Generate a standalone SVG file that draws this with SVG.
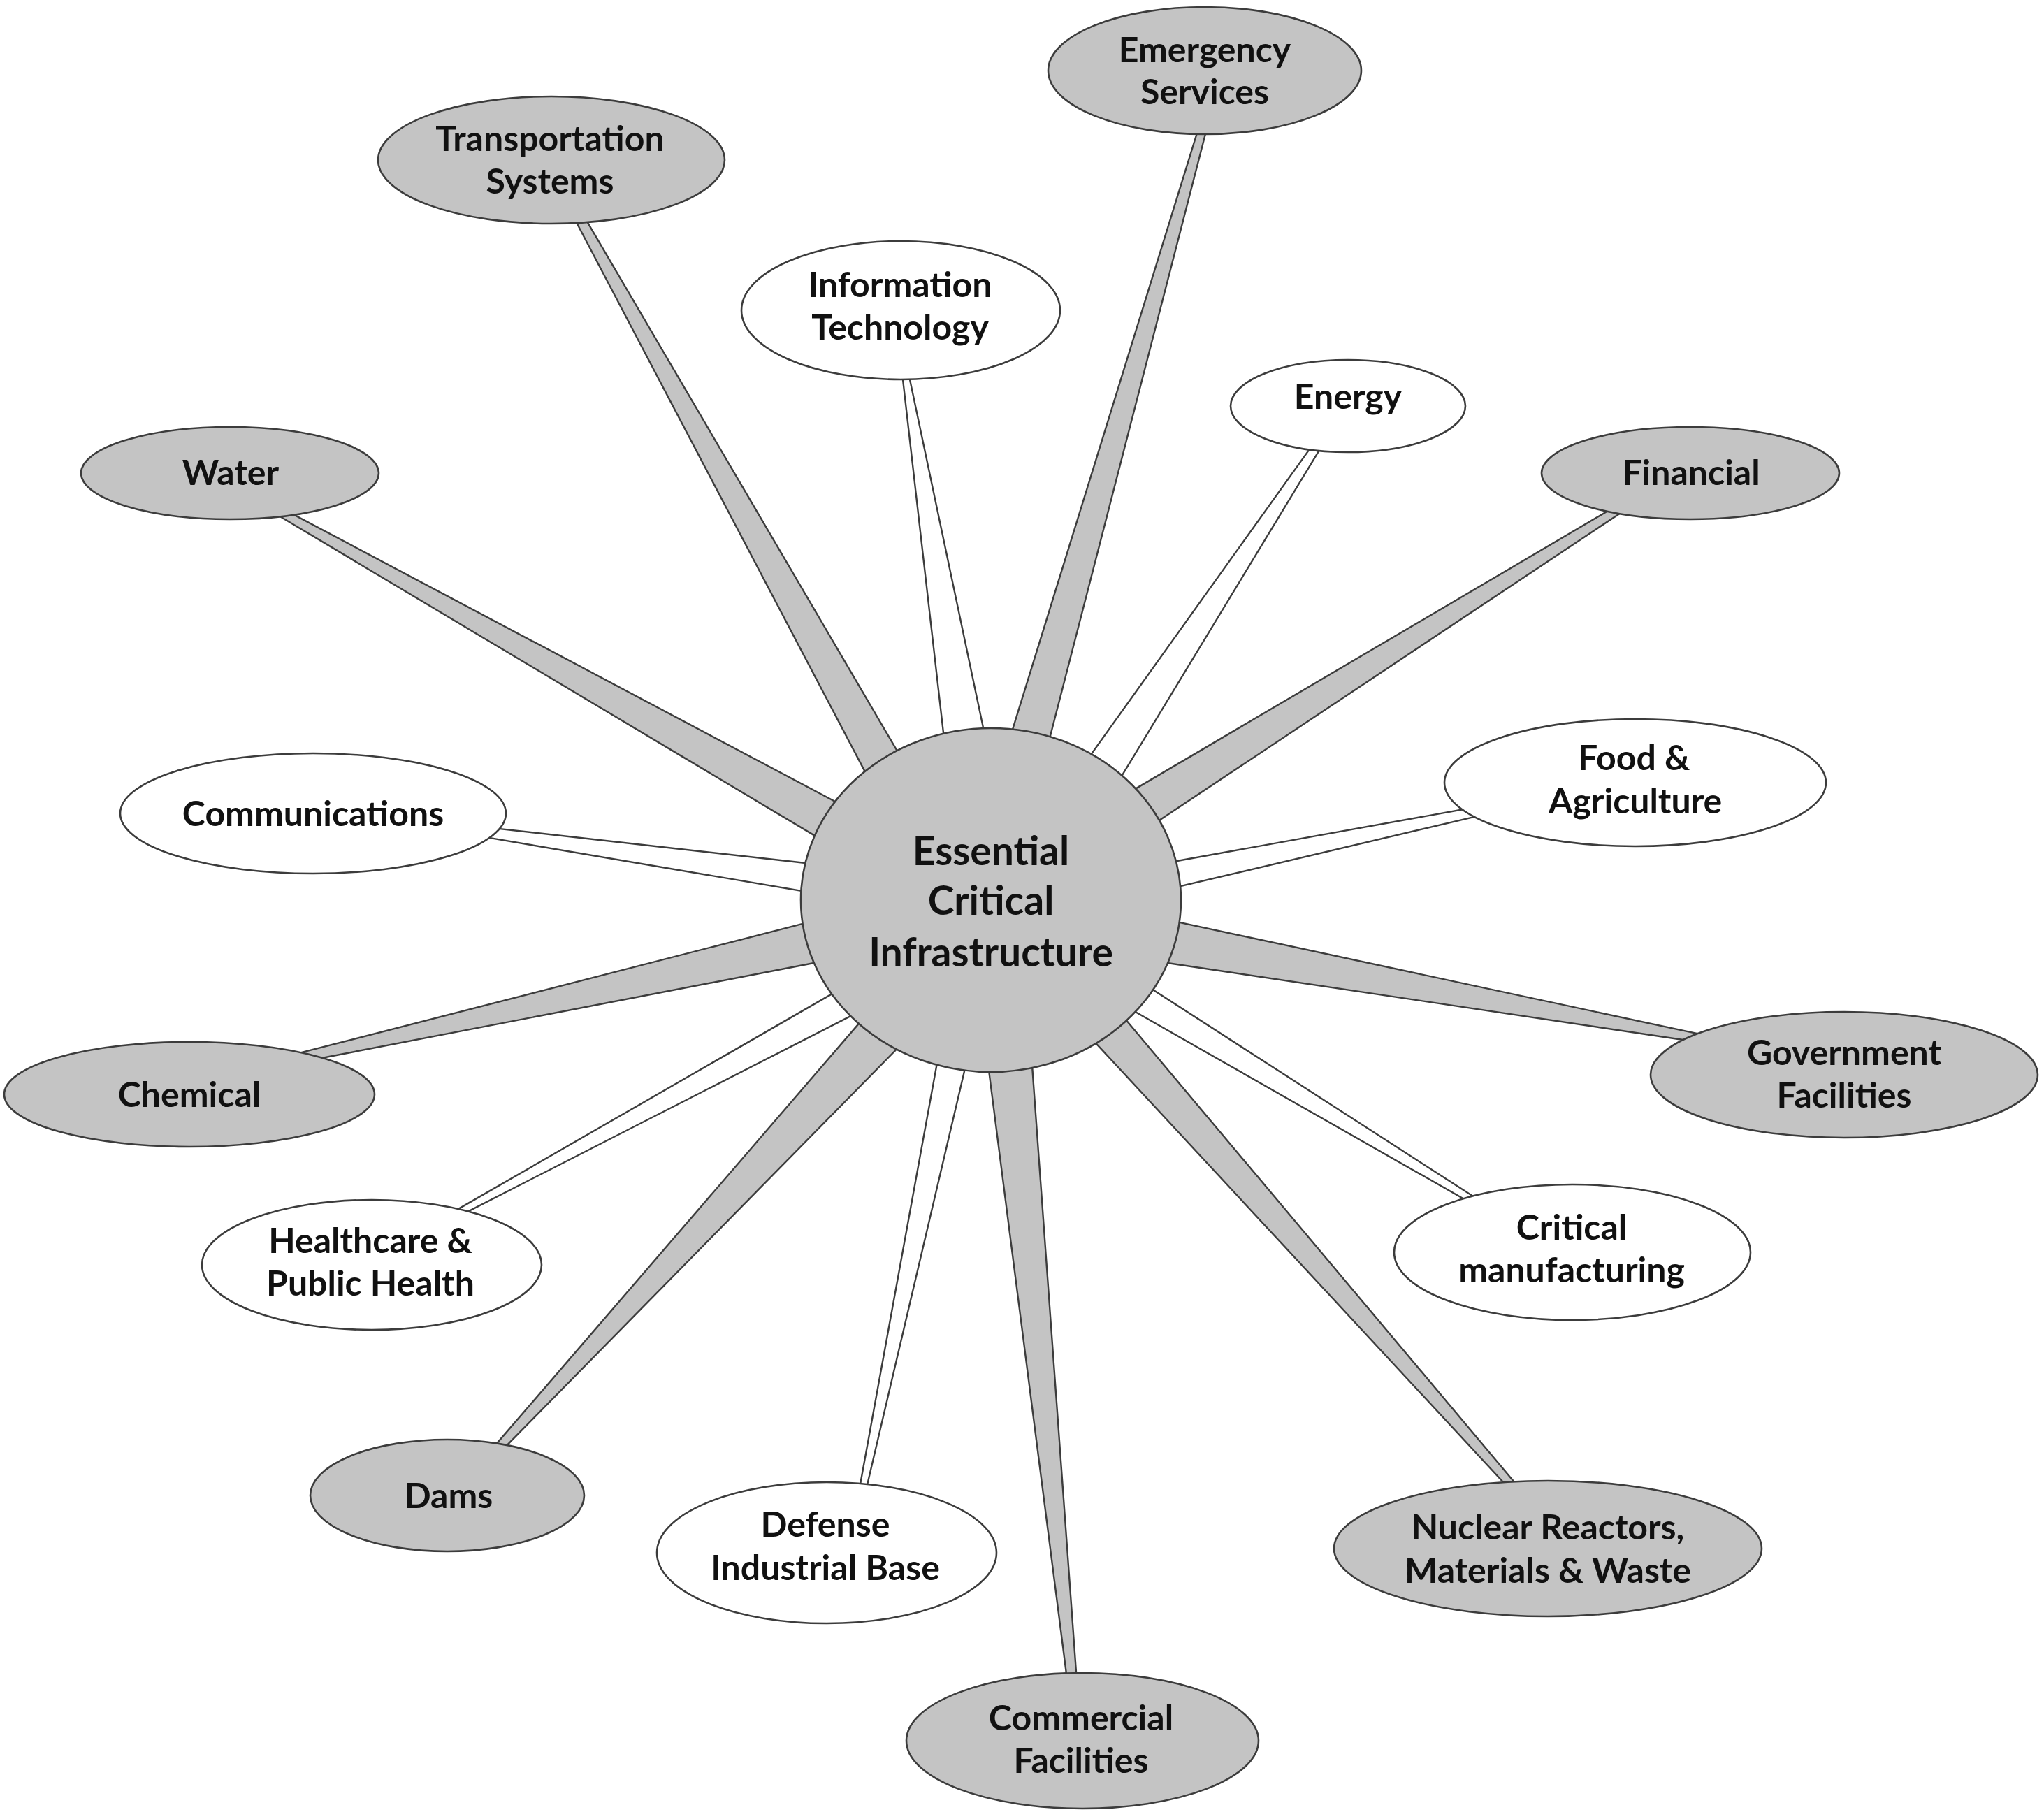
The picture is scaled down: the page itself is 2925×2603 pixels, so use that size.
<svg xmlns="http://www.w3.org/2000/svg" width="2925" height="2603" viewBox="0 0 2925 2603">
<style>
.g{fill:#c4c4c4;stroke:#3c3c3c;stroke-width:2.6}
.w{fill:#ffffff;stroke:#3c3c3c;stroke-width:2.6}
.sg{fill:#c4c4c4;stroke:#3c3c3c;stroke-width:2.4;stroke-linejoin:round}
.sw{fill:#ffffff;stroke:#3c3c3c;stroke-width:2.4;stroke-linejoin:round}
text{font-family:Lato,"Liberation Sans",sans-serif;font-weight:bold;font-size:50px;fill:#111111;text-anchor:middle}
.c{font-size:57px}
</style>
<rect width="2925" height="2603" fill="#ffffff"/>
<g id="connectors">
<polygon class="sg" points="1718.8,171.5 1729.4,174.5 1494.7,1085.2 1440.9,1070.0"/>
<polygon class="sg" points="817.8,304.8 829.2,298.4 1299.6,1101.4 1250.6,1128.6"/>
<polygon class="sw" points="1289.8,523.9 1297.7,522.7 1412.4,1067.0 1353.2,1076.6"/>
<polygon class="sw" points="1887.3,624.1 1896.5,630.1 1589.3,1136.7 1542.5,1105.9"/>
<polygon class="sg" points="2323.2,718.0 2329.0,727.4 1632.1,1191.8 1601.3,1142.6"/>
<polygon class="sg" points="392.3,734.0 397.7,724.4 1214.9,1157.5 1186.5,1208.1"/>
<polygon class="sw" points="2112.9,1154.8 2115.5,1167.6 1660.5,1274.9 1652.7,1237.7"/>
<polygon class="sw" points="691.1,1197.4 693.1,1183.6 1182.1,1238.3 1176.3,1279.9"/>
<polygon class="sg" points="427.9,1520.3 425.1,1507.7 1178.7,1314.1 1191.9,1372.7"/>
<polygon class="sg" points="2440.9,1481.7 2438.9,1492.5 1645.3,1374.2 1656.3,1313.2"/>
<polygon class="sw" points="2121.4,1720.5 2116.8,1728.2 1596.2,1431.8 1618.0,1395.8"/>
<polygon class="sw" points="652.6,1742.4 648.3,1734.4 1219.0,1405.9 1239.0,1442.9"/>
<polygon class="sg" points="706.1,2087.8 698.1,2080.4 1247.2,1443.6 1295.8,1488.4"/>
<polygon class="sw" points="1236.5,2144.0 1227.7,2142.2 1345.8,1494.6 1387.0,1503.2"/>
<polygon class="sg" points="2177.2,2133.0 2169.0,2140.2 1547.1,1470.1 1589.1,1433.1"/>
<polygon class="sg" points="1541.5,2413.4 1528.5,2414.7 1411.4,1503.5 1475.0,1497.1"/>
</g>
<g id="center">
<ellipse class="g" cx="1418" cy="1288" rx="272" ry="246"/>
<text class="c" x="1418" y="1238">Essential</text>
<text class="c" x="1418" y="1309">Critical</text>
<text class="c" x="1418" y="1383">Infrastructure</text>
</g>
<g id="emergency-services">
<ellipse class="g" cx="1724" cy="101" rx="224" ry="91"/>
<text x="1724" y="89">Emergency</text>
<text x="1724" y="149">Services</text>
</g>
<g id="transportation-systems">
<ellipse class="g" cx="789" cy="229" rx="248" ry="91"/>
<text x="787" y="216">Transportation</text>
<text x="787" y="277">Systems</text>
</g>
<g id="information-technology">
<ellipse class="w" cx="1289" cy="444" rx="228" ry="99"/>
<text x="1288" y="425">Information</text>
<text x="1288" y="486">Technology</text>
</g>
<g id="energy">
<ellipse class="w" cx="1929" cy="581" rx="168" ry="66"/>
<text x="1929" y="585">Energy</text>
</g>
<g id="financial">
<ellipse class="g" cx="2419" cy="677" rx="213" ry="66"/>
<text x="2420" y="694">Financial</text>
</g>
<g id="water">
<ellipse class="g" cx="329" cy="677" rx="213" ry="66"/>
<text x="330" y="694">Water</text>
</g>
<g id="food-agriculture">
<ellipse class="w" cx="2340" cy="1120" rx="273" ry="91"/>
<text x="2338" y="1102">Food &amp;</text>
<text x="2340" y="1164">Agriculture</text>
</g>
<g id="communications">
<ellipse class="w" cx="448" cy="1164" rx="276" ry="86"/>
<text x="448" y="1182">Communications</text>
</g>
<g id="chemical">
<ellipse class="g" cx="271" cy="1566" rx="265" ry="75"/>
<text x="271" y="1584">Chemical</text>
</g>
<g id="government-facilities">
<ellipse class="g" cx="2639" cy="1538" rx="277" ry="90"/>
<text x="2639" y="1524">Government</text>
<text x="2639" y="1585">Facilities</text>
</g>
<g id="critical-manufacturing">
<ellipse class="w" cx="2250" cy="1792" rx="255" ry="97"/>
<text x="2249" y="1774">Critical</text>
<text x="2249" y="1835">manufacturing</text>
</g>
<g id="healthcare-public-health">
<ellipse class="w" cx="532" cy="1810" rx="243" ry="93"/>
<text x="530" y="1793">Healthcare &amp;</text>
<text x="530" y="1854">Public Health</text>
</g>
<g id="dams">
<ellipse class="g" cx="640" cy="2140" rx="196" ry="80"/>
<text x="642" y="2158">Dams</text>
</g>
<g id="defense-industrial-base">
<ellipse class="w" cx="1183" cy="2222" rx="243" ry="101"/>
<text x="1181" y="2199">Defense</text>
<text x="1181" y="2261">Industrial Base</text>
</g>
<g id="nuclear">
<ellipse class="g" cx="2215" cy="2216" rx="306" ry="97"/>
<text x="2215" y="2203">Nuclear Reactors,</text>
<text x="2215" y="2265">Materials &amp; Waste</text>
</g>
<g id="commercial-facilities">
<ellipse class="g" cx="1549" cy="2491" rx="252" ry="97"/>
<text x="1547" y="2476">Commercial</text>
<text x="1547" y="2537">Facilities</text>
</g>
</svg>
